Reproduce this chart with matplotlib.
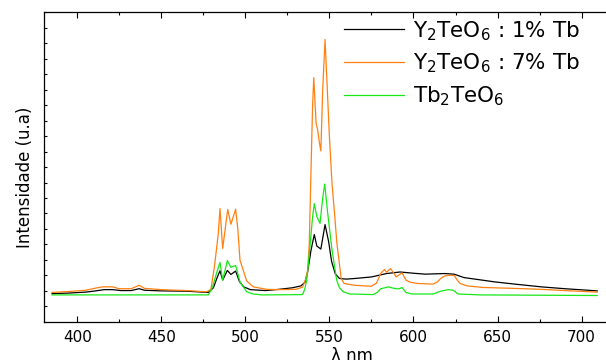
import matplotlib
matplotlib.use("Agg")
import matplotlib.pyplot as plt
from matplotlib.ticker import MultipleLocator

# emission spectra (arbitrary units)
wl_1 = [385, 395, 405, 411, 416, 421, 426, 432, 436.8, 440, 450, 465, 478, 481,
        483, 484.9, 486.5, 489.3, 491.4, 494.2, 496.5, 499, 503, 512, 520, 528,
        533, 535.5, 537, 539, 541, 542.5, 544.9, 547.4, 549.5, 551.3, 553.5, 556,
        560, 565, 575, 584, 592, 600, 607, 618.4, 624.2, 630, 648.4, 660, 676,
        690, 709.3]
int_1 = [9.1, 9.3, 9.6, 10.0, 10.4, 10.4, 10.1, 10.1, 10.7, 10.2, 10.0, 9.9, 9.5, 11.0,
         14.0, 16.5, 13.5, 16.6, 15.3, 16.4, 13.0, 11.3, 10.4, 10.1, 10.5, 11.0,
         11.6, 12.8, 16.0, 23.0, 28.2, 24.5, 23.5, 31.4, 26.0, 19.5, 15.5, 14.0,
         13.8, 14.0, 14.5, 15.6, 16.1, 15.7, 15.4, 15.6, 15.4, 14.3, 12.9, 12.2, 11.3,
         10.7, 10.0]

wl_7 = [385, 395, 405, 411, 415, 421, 425, 432, 436.8, 440, 450, 465, 477, 479.5,
        481.6, 483.9, 484.9, 486.5, 489.5, 491.4, 494.2, 495.5, 496.8, 500.8, 504.7,
        512.7, 520, 530, 534, 535.7, 537, 538, 539, 540, 540.7, 541.5, 542.1, 543,
        544, 544.9, 546, 547.4, 548.5, 549.9, 551.5, 553.2, 554.5, 555.9, 557, 558.7,
        565, 574.8, 578, 580.5, 582.8, 584, 586.3, 588, 589.7, 591.5, 593.2, 595.5,
        598, 602.4, 611.6, 614, 616.2, 618.5, 620.8, 624.2, 626, 627.7, 632, 641.5,
        660, 676, 690, 709.3]
int_7 = [9.5, 9.8, 10.2, 10.9, 11.3, 11.3, 10.7, 10.7, 11.8, 10.8, 10.4, 10.1, 9.7, 10.5,
         17.8, 28.5, 36.6, 23.7, 36.3, 31.5, 36.4, 30.0, 19.9, 13.2, 11.3,
         10.5, 10.4, 10.5, 11.2, 13.5, 16.5, 25.0, 48.0, 70.0, 78.9, 70.0, 64.1, 62.0,
         58.0, 55.2, 75.0, 91.2, 78.0, 60.8, 45.0, 33.9, 25.0, 18.9, 14.0, 12.4,
         11.8, 11.5, 12.5, 15.6, 16.9, 16.0, 17.2, 16.0, 14.5, 15.2, 15.8, 13.5,
         12.8, 12.4, 12.2, 12.8, 14.0, 14.8, 15.0, 15.0, 13.5, 12.4, 11.6, 11.1,
         10.8, 10.5, 10.1, 9.6]

wl_tb = [385, 478, 480.5, 482.8, 484.9, 486.5, 489.3, 491.4, 494.2, 496.8, 500.8,
         504.7, 510, 534, 535.3, 536.5, 538.4, 540, 541, 542.5, 544.4, 546, 547.2,
         549, 551.3, 554.3, 556, 558.2, 562, 576, 578.5, 580.5, 583, 585.1, 587,
         589.7, 591.5, 593.2, 595.5, 599, 612, 614, 617, 620.8, 623.7, 626.5, 640,
         709.3]
int_tb = [8.7, 8.7, 11.3, 15.6, 19.2, 13.5, 19.8, 17.6, 18.2, 12.9, 9.7,
          9.0, 8.7, 8.8, 10.5, 13.5, 24.2, 34.0, 38.2, 34.0, 31.8, 40.0, 44.5,
          35.0, 24.2, 13.5, 11.0, 9.7, 9.0, 8.8, 9.5, 10.7, 11.0, 11.3, 11.0,
          10.7, 10.7, 11.1, 9.5, 9.0, 9.0, 9.5, 10.0, 10.4, 10.2, 9.0, 8.7,
          8.5]

labels = [r"Y$_2$TeO$_6$ : 1% Tb", r"Y$_2$TeO$_6$ : 7% Tb", r"Tb$_2$TeO$_6$"]
colors = ["black", "#ff8010", "#18e818"]

plt.rcParams["mathtext.default"] = "regular"

fig = plt.figure(figsize=(6.06, 3.6), dpi=100)
# axes runs past the right edge of the picture, like the cropped original
ax = fig.add_axes([0.072, 0.106, 1.017, 0.860])

ax.plot(wl_1, int_1, color=colors[0], lw=0.9, label=labels[0])
ax.plot(wl_7, int_7, color=colors[1], lw=0.9, label=labels[1])
ax.plot(wl_tb, int_tb, color=colors[2], lw=0.9, label=labels[2])

ax.set_xlim(380, 746.6)
ax.set_ylim(0, 100)

ax.xaxis.set_major_locator(MultipleLocator(50))
ax.xaxis.set_minor_locator(MultipleLocator(25))
ax.yaxis.set_major_locator(MultipleLocator(5))
ax.tick_params(axis="x", which="major", direction="in", length=4, width=0.8,
               labelsize=11, pad=6, top=True)
ax.tick_params(axis="x", which="minor", direction="in", length=2.5, width=0.8, top=True)
ax.tick_params(axis="y", which="major", direction="in", length=2, width=0.8,
               labelleft=False)
ax.spines["right"].set_visible(False)
for s in ["left", "bottom", "top"]:
    ax.spines[s].set_linewidth(0.9)

ax.set_xlabel("λ nm", fontsize=12, labelpad=1)
ax.set_ylabel("Intensidade (u.a)", fontsize=12)
ax.yaxis.set_label_coords(-0.016, 0.466)

ax.legend(loc="upper left", bbox_to_anchor=(344 / 606, 1 - 19 / 360),
          bbox_transform=fig.transFigure, frameon=False, fontsize=15.5,
          borderpad=0, borderaxespad=0, handlelength=2.8, handletextpad=0.4,
          labelspacing=0.42)

fig.savefig("out.png", dpi=100)
